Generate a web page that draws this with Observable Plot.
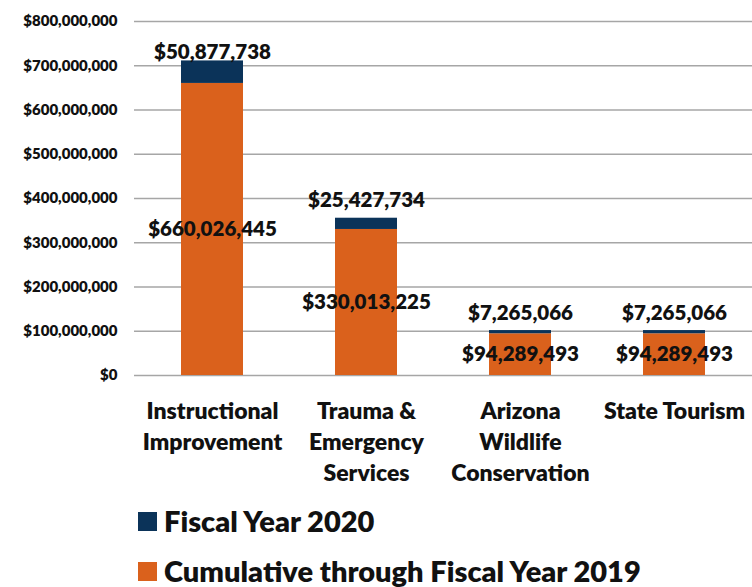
<!DOCTYPE html>
<html>
<head>
<meta charset="utf-8">
<script src="https://cdn.jsdelivr.net/npm/d3@7"></script>
<script src="https://cdn.jsdelivr.net/npm/@observablehq/plot@0.6"></script>
<style>
  body { margin: 0; background: #fff; font-family: Lato, "Open Sans", sans-serif; }
  #chart svg { display: block; }
  .legend { position: relative; height: 92px; }
  .item { position: absolute; left: 138px; height: 30px; display: flex; align-items: center; font-weight: 800; font-size: 29px; line-height: 30px; color: #111; white-space: nowrap; }
  .sw { width: 19px; height: 19px; margin-right: 7px; flex: none; }
</style>
</head>
<body>
<div id="chart"></div>
<div class="legend">
  <div class="item" style="top:11px"><span class="sw" style="background:#0B3359"></span>Fiscal Year 2020</div>
  <div class="item" style="top:61px"><span class="sw" style="background:#DA611C"></span>Cumulative through Fiscal Year 2019</div>
</div>
<script>
const categories = ["Instructional Improvement", "Trauma & Emergency Services", "Arizona Wildlife Conservation", "State Tourism"];
const tickLabels = ["Instructional\nImprovement", "Trauma &\nEmergency\nServices", "Arizona\nWildlife\nConservation", "State Tourism"];
const cumulative = [660026445, 330013225, 94289493, 94289493];
const fy2020 = [50877738, 25427734, 7265066, 7265066];
const seriesNames = ["Cumulative through Fiscal Year 2019", "Fiscal Year 2020"];
const yTicks = [0, 100000000, 200000000, 300000000, 400000000, 500000000, 600000000, 700000000, 800000000];

const rows = [];
categories.forEach((c, i) => {
  rows.push({cat: c, series: seriesNames[0], value: cumulative[i]});
  rows.push({cat: c, series: seriesNames[1], value: fy2020[i]});
});
const tops = categories.map((c, i) => ({cat: c, total: cumulative[i] + fy2020[i], fy: fy2020[i], idx: i}));
const mids = categories.map((c, i) => ({cat: c, mid: cumulative[i] / 2, v: cumulative[i]}));
const fmt = d3.format("$,");
const labelMap = new Map(categories.map((c, i) => [c, tickLabels[i]]));

const chart = Plot.plot({
  width: 752,
  height: 495,
  marginTop: 21,
  marginBottom: 120,
  marginLeft: 134,
  marginRight: 0,
  style: {fontFamily: "Lato, 'Open Sans', sans-serif", color: "#111"},
  x: {domain: categories, paddingInner: 0.6, paddingOuter: 0.3, label: null},
  y: {domain: [0, 800000000], label: null},
  color: {domain: seriesNames, range: ["#DA611C", "#0B3359"]},
  marks: [
    Plot.ruleY(yTicks, {stroke: "#A6A6A6", strokeWidth: 1.3}),
    Plot.barY(rows, {x: "cat", y: "value", fill: "series", order: seriesNames}),
    Plot.axisY({ticks: yTicks, tickSize: 0, tickPadding: 17, tickFormat: fmt, fontSize: 15, fontWeight: 800, label: null}),
    Plot.axisX({tickSize: 0, tickPadding: 21, tickFormat: d => labelMap.get(d), fontSize: 23, fontWeight: 800, lineHeight: 1.35, lineAnchor: "top", label: null}),
    Plot.text(mids, {x: "cat", y: "mid", text: d => fmt(d.v), fontSize: 20.5, fontWeight: 800, fill: "#111"}),
    Plot.text(tops.filter(d => d.idx === 0), {x: "cat", y: "total", text: d => fmt(d.fy), fontSize: 20.5, fontWeight: 800, fill: "#111", lineAnchor: "bottom", dy: -2}),
    Plot.text(tops.filter(d => d.idx > 0), {x: "cat", y: "total", text: d => fmt(d.fy), fontSize: 20.5, fontWeight: 800, fill: "#111", lineAnchor: "bottom", dy: -11})
  ]
});
document.getElementById("chart").appendChild(chart);
</script>
</body>
</html>
